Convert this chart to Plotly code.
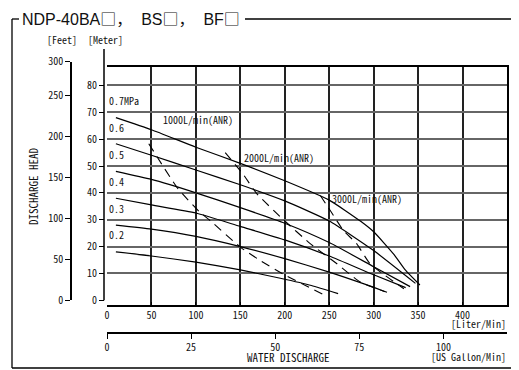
import plotly.graph_objects as go

# ---------------- data ----------------
PRESSURE_LABELS = ["0.7MPa", "0.6", "0.5", "0.4", "0.3", "0.2"]
PRESSURE_LABEL_GRID = [70, 60, 50, 40, 30, 20]

L_07 = [10, 50, 100, 150, 200, 250, 285, 300, 323, 335, 352]
H_07 = [68, 63.5, 57, 51, 44.5, 37.3, 29.5, 25.5, 17, 11.5, 5.7]
L_06 = [10, 50, 100, 150, 200, 250, 300, 347]
H_06 = [58.3, 54, 48.5, 43, 37, 29.5, 18.5, 6.3]
L_05 = [10, 50, 100, 150, 200, 250, 300, 341]
H_05 = [48, 45, 40, 34.5, 28.7, 21.5, 12.5, 5.1]
L_04 = [10, 50, 100, 150, 200, 250, 300, 336]
H_04 = [38, 35.5, 32.5, 27.5, 22.5, 16.5, 9.5, 4.7]
L_03 = [10, 50, 100, 150, 200, 250, 290, 313]
H_03 = [28, 26.5, 23.8, 20, 15.5, 10.5, 6, 3.2]
L_02 = [10, 50, 100, 150, 195, 230, 260]
H_02 = [18, 16.5, 14.2, 11.3, 8.2, 5.5, 2.5]

AIR_LABELS = ["1000L/min(ANR)", "2000L/min(ANR)", "3000L/min(ANR)"]
AIR_LABEL_POS_L = [61, 151.5, 251]
AIR_LABEL_POS_H = [67.4, 53.2, 38]
L_A1 = [47, 80, 104.5, 116, 150, 172, 198.5, 225, 247]
H_A1 = [58.3, 41.5, 32.8, 29.7, 19.8, 14.9, 9.7, 5.2, 1.5]
L_A2 = [133, 153, 168.5, 198.5, 228.6, 258.7, 285, 315]
H_A2 = [55, 47, 39.7, 30, 21.1, 13.6, 6.8, 3]
L_A3 = [240, 251, 266, 281, 296, 334]
H_A3 = [39, 33.5, 26, 21, 13.6, 4.3]

METER_TICKS = [0, 10, 20, 30, 40, 50, 60, 70, 80]
GRID_M = [10, 20, 30, 40, 50, 60, 70, 80]
FEET_TICKS = [0, 50, 100, 150, 200, 250]
FEET_TOP_LABEL = "300"
LITER_TICKS = [0, 50, 100, 150, 200, 250, 300, 350, 400]
GRID_L = [50, 100, 150, 200, 250, 300, 350, 400]
GALLON_TICKS = [0, 25, 50, 75, 100]
L_MAX = 450
M_TOP = 86.86
M_BOTTOM = -1.75
FT_PER_M = 3.28084
L_PER_GAL = 3.78541

# ---------------- layout geometry ----------------
# page body has an 8px margin; all pixel positions below are screen pixels
OFF = 8
W, H = 511, 362
ML, MR, MT, MB = 52, 12, 41, 37
PW, PH = W - ML - MR, H - MT - MB


def fx(px):
    return (px - OFF - ML) / PW


def fy(py):
    return (H - MB - (py - OFF)) / PH


MONO = "Noto Sans Mono CJK JP, Liberation Mono, monospace"
SANS = "Liberation Sans, Arial, sans-serif"
TF = dict(family=MONO, size=10, color="#111")

fig = go.Figure()

curves = [(L_07, H_07), (L_06, H_06), (L_05, H_05), (L_04, H_04), (L_03, H_03), (L_02, H_02)]
for (lx, hy), name in zip(curves, PRESSURE_LABELS):
    fig.add_trace(go.Scatter(x=lx, y=hy, mode="lines", name=name,
                             line=dict(color="black", width=1.2, shape="spline", smoothing=0.5),
                             xaxis="x", yaxis="y", showlegend=False, hoverinfo="skip"))

for (lx, hy), name in zip([(L_A1, H_A1), (L_A2, H_A2), (L_A3, H_A3)], AIR_LABELS):
    fig.add_trace(go.Scatter(x=lx, y=hy, mode="lines", name=name,
                             line=dict(color="black", width=1.1, dash="9px,6px", shape="spline", smoothing=0.5),
                             xaxis="x", yaxis="y", showlegend=False, hoverinfo="skip"))

# empty traces so the extra axes render
fig.add_trace(go.Scatter(x=[0, L_MAX / L_PER_GAL], y=[None, None], xaxis="x2", yaxis="y",
                         mode="lines", showlegend=False, hoverinfo="skip"))
fig.add_trace(go.Scatter(x=[None, None], y=[0, M_TOP * FT_PER_M], xaxis="x", yaxis="y2",
                         mode="lines", showlegend=False, hoverinfo="skip"))
fig.add_trace(go.Scatter(x=[0, L_MAX], y=[None, None], xaxis="x3", yaxis="y3",
                         mode="lines", showlegend=False, hoverinfo="skip"))

y_dom = [fy(305), fy(67)]
feet_top = (300.3 - 61.7) / 2.686 * FT_PER_M

fig.update_layout(
    template="none",
    width=W, height=H,
    margin=dict(l=ML, r=MR, t=MT, b=MB, pad=0, autoexpand=False),
    paper_bgcolor="white", plot_bgcolor="rgba(0,0,0,0)",
    showlegend=False,
    xaxis=dict(domain=[fx(107), 1], range=[0, L_MAX], anchor="y", automargin=False,
               tickvals=LITER_TICKS, ticks="inside", ticklen=3, tickcolor="black",
               showline=True, linecolor="black", linewidth=1.5, mirror=True,
               showgrid=False, zeroline=False, tickfont=TF),
    xaxis2=dict(domain=[fx(107), 1], range=[0, L_MAX / L_PER_GAL], overlaying="x",
                anchor="free", position=0, side="bottom", automargin=False,
                tickvals=GALLON_TICKS, ticks="outside", ticklen=5, tickcolor="black",
                showline=True, linecolor="black", linewidth=1.5,
                showgrid=False, zeroline=False, tickfont=TF),
    xaxis3=dict(domain=[fx(107), 1], range=[0, L_MAX], overlaying="x", anchor="y",
                automargin=False, tickvals=GRID_L, showticklabels=False, ticks="",
                showline=False,
                showgrid=True, gridcolor="#222", gridwidth=1.5, zeroline=False),
    yaxis=dict(domain=y_dom, range=[M_BOTTOM, M_TOP], anchor="free", position=fx(104),
               automargin=False,
               tickvals=METER_TICKS, ticks="outside", ticklen=5, tickcolor="black",
               showline=False, showgrid=False, zeroline=False, tickfont=TF),
    yaxis2=dict(domain=[fy(300.3), fy(61.7)], range=[0, feet_top],
                anchor="free", position=fx(71), automargin=False,
                tickvals=FEET_TICKS + [feet_top],
                ticktext=[str(v) for v in FEET_TICKS] + [FEET_TOP_LABEL],
                ticks="outside", ticklen=5, tickcolor="black",
                showline=True, linecolor="black", linewidth=1.5,
                showgrid=False, zeroline=False, tickfont=TF),
    yaxis3=dict(domain=y_dom, range=[M_BOTTOM, M_TOP], overlaying="y", anchor="x",
                side="right", automargin=False, tickvals=GRID_M, showticklabels=False, ticks="",
                showline=True, linecolor="black", linewidth=1.5,
                showgrid=True, gridcolor="#666", gridwidth=2, zeroline=False),
)

shapes = []
# meter axis line
shapes.append(dict(type="line", xref="paper", yref="paper", x0=fx(104), x1=fx(104),
                   y0=fy(300.3), y1=fy(49), line=dict(color="black", width=1.5)))
# outer frame
for x0, y0, x1, y1 in [(12, 19, 12, 368), (12, 368, 519, 368), (12, 19, 19, 19), (245, 19, 519, 19)]:
    shapes.append(dict(type="line", xref="paper", yref="paper", x0=fx(x0), x1=fx(x1),
                       y0=fy(y0), y1=fy(y1), line=dict(color="black", width=1.3)))
fig.update_layout(shapes=shapes)

ann = []
for lab, g in zip(PRESSURE_LABELS, PRESSURE_LABEL_GRID):
    ann.append(dict(x=0.5, y=g + 0.8, xref="x", yref="y", text=lab, showarrow=False,
                    xanchor="left", yanchor="bottom", font=TF))
for lab, lx, hy in zip(AIR_LABELS, AIR_LABEL_POS_L, AIR_LABEL_POS_H):
    ann.append(dict(x=lx, y=hy, xref="x", yref="y", text=lab, showarrow=False,
                    xanchor="left", yanchor="middle", font=TF))


def pann(text, px, py, xa="center", ya="middle", font=TF, angle=0):
    ann.append(dict(x=fx(px), y=fy(py), xref="paper", yref="paper", text=text, showarrow=False,
                    xanchor=xa, yanchor=ya, font=font, textangle=angle))


pann("[Feet]", 62, 39)
pann("[Meter]", 105, 39)
pann("DISCHARGE HEAD", 33, 187, angle=-90, font=dict(family=MONO, size=11, color="#111"))
pann("[Liter/Min]", 508, 323, xa="right")
pann("WATER DISCHARGE", 288, 357, font=dict(family=MONO, size=11, color="#111"))
pann("[US Gallon/Min]", 508, 357, xa="right")
CJK = "font-family:Noto Sans CJK JP;color:#111"
title = ("NDP-40BA<span style='%s'>\u25a1\uff0c</span>\u00a0\u00a0BS"
         "<span style='%s'>\u25a1\uff0c</span>\u00a0\u00a0BF"
         "<span style='%s'>\u25a1</span>") % (CJK, CJK, CJK)
pann(title, 20, 18, xa="left", font=dict(family=SANS, size=16, color="#111"))
fig.update_layout(annotations=ann)

fig.write_html("out.html")
